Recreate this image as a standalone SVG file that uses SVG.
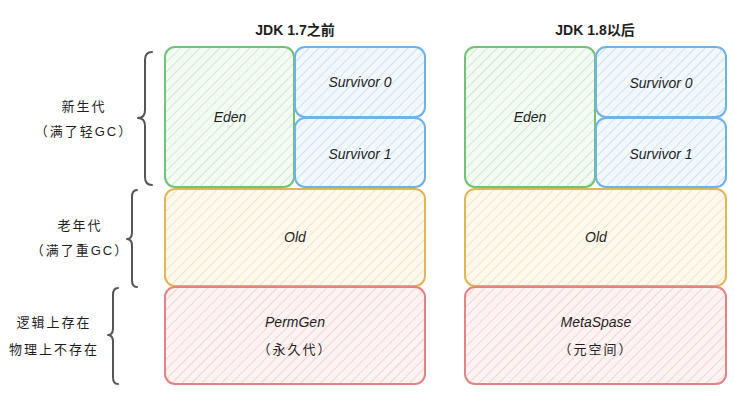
<svg xmlns="http://www.w3.org/2000/svg" width="734" height="400" viewBox="0 0 734 400">
<style>
text{font-family:"Liberation Sans","Noto Sans CJK SC",sans-serif;fill:#1e1e1e;text-anchor:middle;dominant-baseline:central}
.t{font-size:14px;font-style:italic}
.h{font-size:14px;font-weight:bold}
.l{font-size:13px;letter-spacing:2px}
.box{stroke-width:2}
.g{stroke:#72c275;fill:url(#pg)}
.b{stroke:#6eb2e8;fill:url(#pb)}
.y{stroke:#e2b653;fill:url(#py)}
.r{stroke:#e48383;fill:url(#pr)}
.brace{fill:none;stroke:#555;stroke-width:2;stroke-linecap:round;stroke-linejoin:round}
</style>
<defs>
<pattern id="pg" width="7" height="7" patternUnits="userSpaceOnUse" patternTransform="rotate(45)"><rect width="7" height="7" fill="#f4fbf4"/><line x1="0" y1="0" x2="0" y2="7" stroke="#cdebcf" stroke-width="2"/></pattern>
<pattern id="pb" width="7" height="7" patternUnits="userSpaceOnUse" patternTransform="rotate(45)"><rect width="7" height="7" fill="#f3f8fd"/><line x1="0" y1="0" x2="0" y2="7" stroke="#cbe2f7" stroke-width="2"/></pattern>
<pattern id="py" width="7" height="7" patternUnits="userSpaceOnUse" patternTransform="rotate(45)"><rect width="7" height="7" fill="#fdf9ef"/><line x1="0" y1="0" x2="0" y2="7" stroke="#f5e5bd" stroke-width="2"/></pattern>
<pattern id="pr" width="7" height="7" patternUnits="userSpaceOnUse" patternTransform="rotate(45)"><rect width="7" height="7" fill="#fdf3f3"/><line x1="0" y1="0" x2="0" y2="7" stroke="#f8d2d2" stroke-width="2"/></pattern>
</defs>

<g id="title-17"><text class="h" x="295" y="30">JDK 1.7之前</text></g>
<g id="title-18"><text class="h" x="595" y="30">JDK 1.8以后</text></g>

<g id="label-young"><text class="l" x="84" y="106">新生代</text><text class="l" x="84" y="131">（满了轻GC）</text></g>
<g id="label-old"><text class="l" x="80" y="225">老年代</text><text class="l" x="80" y="250">（满了重GC）</text></g>
<g id="label-perm"><text class="l" x="54" y="322">逻辑上存在</text><text class="l" x="54" y="349">物理上不存在</text></g>

<g id="braces">
<path class="brace" d="M152,52 Q145,52 145,60 L145,110 Q145,118 138,118 Q145,118 145,126 L145,177 Q145,185 152,185"/>
<path class="brace" d="M137,190 Q132,190 132,197 L132,232 Q132,239 127,239 Q132,239 132,246 L132,280 Q132,287 137,287"/>
<path class="brace" d="M118,288 Q113,288 113,295 L113,328 Q113,335 108,335 Q113,335 113,342 L113,377 Q113,384 118,384"/>
</g>

<g id="eden-17"><rect class="box g" x="165" y="47" width="129" height="140" rx="10"/><text class="t" x="230" y="117">Eden</text></g>
<g id="s0-17"><rect class="box b" x="295" y="47" width="130" height="70" rx="10"/><text class="t" x="360" y="82">Survivor 0</text></g>
<g id="s1-17"><rect class="box b" x="295" y="118" width="130" height="69" rx="10"/><text class="t" x="360" y="154">Survivor 1</text></g>
<g id="old-17"><rect class="box y" x="165" y="189" width="260" height="97" rx="10"/><text class="t" x="295" y="237">Old</text></g>
<g id="perm-17"><rect class="box r" x="165" y="287" width="260" height="97" rx="10"/><text class="t" x="295" y="322">PermGen</text><text class="l" x="295" y="349">（永久代）</text></g>

<g id="eden-18"><rect class="box g" x="465" y="47" width="130" height="140" rx="10"/><text class="t" x="530" y="117">Eden</text></g>
<g id="s0-18"><rect class="box b" x="596" y="47" width="130" height="70" rx="10"/><text class="t" x="661" y="83">Survivor 0</text></g>
<g id="s1-18"><rect class="box b" x="596" y="118" width="130" height="69" rx="10"/><text class="t" x="661" y="154">Survivor 1</text></g>
<g id="old-18"><rect class="box y" x="465" y="189" width="261" height="97" rx="10"/><text class="t" x="596" y="237">Old</text></g>
<g id="meta-18"><rect class="box r" x="465" y="287" width="261" height="97" rx="10"/><text class="t" x="596" y="322">MetaSpase</text><text class="l" x="596" y="349">（元空间）</text></g>
</svg>
